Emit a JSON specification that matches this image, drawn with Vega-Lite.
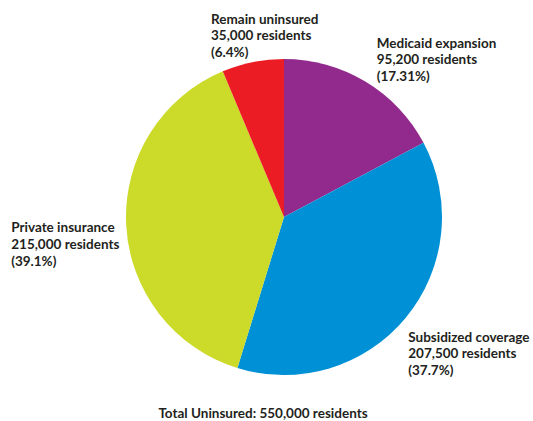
{
  "$schema": "https://vega.github.io/schema/vega-lite/v6.json",
  "width": 498,
  "height": 408,
  "padding": {"left": 35, "top": 13, "right": 0, "bottom": 0},
  "autosize": {"type": "none"},
  "background": "white",
  "view": {"stroke": null},
  "title": {
    "text": "Total Uninsured: 550,000 residents",
    "orient": "bottom",
    "anchor": "middle",
    "offset": -14,
    "dx": -21,
    "font": "Lato",
    "fontSize": 13.5,
    "fontWeight": "bold",
    "color": "#231F20"
  },
  "data": {
    "values": [
      {"category": "Medicaid expansion", "rank": 1, "residents": 95200, "label": "Medicaid expansion\n95,200 residents\n(17.31%)"},
      {"category": "Subsidized coverage", "rank": 2, "residents": 207500, "label": "Subsidized coverage\n207,500 residents\n(37.7%)"},
      {"category": "Private insurance", "rank": 3, "residents": 215000, "label": "Private insurance\n\u00a0215,000 residents\n(39.1%)"},
      {"category": "Remain uninsured", "rank": 4, "residents": 35000, "label": "Remain uninsured\n35,000 residents\n(6.4%)"}
    ]
  },
  "encoding": {
    "theta": {"field": "residents", "type": "quantitative", "stack": true},
    "order": {"field": "rank", "type": "quantitative"}
  },
  "layer": [
    {
      "mark": {"type": "arc", "outerRadius": 158},
      "encoding": {
        "color": {
          "field": "category",
          "type": "nominal",
          "scale": {
            "domain": ["Medicaid expansion", "Subsidized coverage", "Private insurance", "Remain uninsured"],
            "range": ["#922A8E", "#0090D5", "#CCDA2A", "#EC1C24"]
          },
          "legend": null
        }
      }
    },
    {
      "mark": {"type": "text", "radius": 182, "align": "left", "baseline": "middle", "dx": -1, "dy": -17.5, "lineBreak": "\n", "font": "Lato", "fontWeight": "bold", "fontSize": 13.5, "lineHeight": 16.5, "color": "#231F20"},
      "encoding": {
        "detail": {"field": "category", "type": "nominal"},
        "text": {"condition": {"test": "datum.category === 'Medicaid expansion'", "field": "label"}, "value": ""}
      }
    },
    {
      "mark": {"type": "text", "radius": 182, "align": "left", "baseline": "middle", "dx": -16, "dy": 5, "lineBreak": "\n", "font": "Lato", "fontWeight": "bold", "fontSize": 13.5, "lineHeight": 16.5, "color": "#231F20"},
      "encoding": {
        "detail": {"field": "category", "type": "nominal"},
        "text": {"condition": {"test": "datum.category === 'Subsidized coverage'", "field": "label"}, "value": ""}
      }
    },
    {
      "mark": {"type": "text", "radius": 182, "align": "left", "baseline": "middle", "dx": -91, "dy": 2, "lineBreak": "\n", "font": "Lato", "fontWeight": "bold", "fontSize": 13.5, "lineHeight": 17, "color": "#231F20"},
      "encoding": {
        "detail": {"field": "category", "type": "nominal"},
        "text": {"condition": {"test": "datum.category === 'Private insurance'", "field": "label"}, "value": ""}
      }
    },
    {
      "mark": {"type": "text", "radius": 182, "align": "left", "baseline": "middle", "dx": -37, "dy": -19, "lineBreak": "\n", "font": "Lato", "fontWeight": "bold", "fontSize": 13.5, "lineHeight": 16.5, "color": "#231F20"},
      "encoding": {
        "detail": {"field": "category", "type": "nominal"},
        "text": {"condition": {"test": "datum.category === 'Remain uninsured'", "field": "label"}, "value": ""}
      }
    }
  ]
}
